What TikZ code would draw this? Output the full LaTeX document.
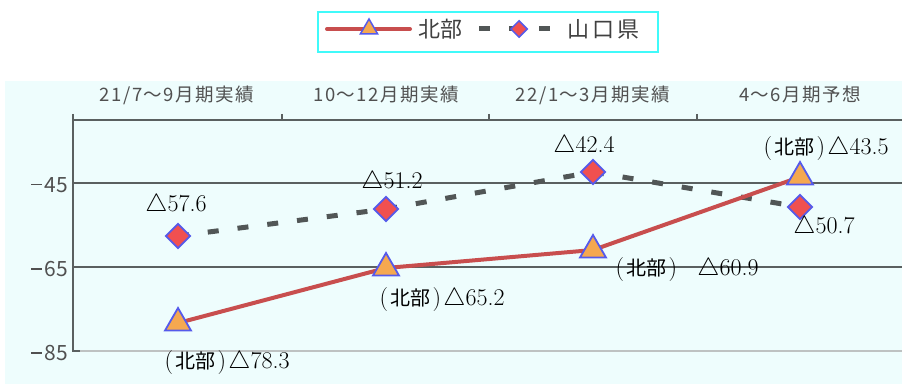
\documentclass[tikz,border=0pt]{standalone}
\usepackage{fontspec}
\newfontfamily\cjk{Noto Sans CJK JP}
\newfontfamily\cjksp[LetterSpace=8]{Noto Sans CJK JP}
\usetikzlibrary{shapes.geometric}
\definecolor{bgcyan}{RGB}{238,253,253}
\definecolor{gridgray}{RGB}{90,96,96}
\definecolor{lightgrid}{RGB}{190,194,194}
\definecolor{txtgray}{RGB}{80,80,80}
\definecolor{redline}{RGB}{200,78,78}
\definecolor{triorange}{RGB}{245,168,80}
\definecolor{diared}{RGB}{240,80,80}
\definecolor{mkblue}{RGB}{85,90,235}
\definecolor{legcyan}{RGB}{64,250,250}
\tikzset{
  grid/.style={draw=gridgray, line width=1.8pt},
  hokubu/.style={draw=redline, line width=4pt},
  ken/.style={draw=gridgray!90!black, line width=5pt, dash pattern=on 11pt off 19pt},
  tri/.style={regular polygon, regular polygon sides=3, minimum size=30pt, inner sep=0pt, fill=triorange, draw=mkblue, line width=1.8pt},
  dia/.style={diamond, minimum width=25pt, minimum height=25pt, inner sep=0pt, fill=diared, draw=mkblue, line width=1.8pt},
  cat/.style={text=txtgray, font=\cjksp\fontsize{18.5}{22}\selectfont},
  ylab/.style={text=txtgray, font=\cjk\fontsize{21}{24}\selectfont, anchor=east, inner sep=0pt},
  val/.style={text=black, font=\fontsize{24}{28}\selectfont, inner sep=0pt},
  legtxt/.style={text=txtgray!80!black, font=\cjk\fontsize{22}{26}\selectfont, inner sep=0pt}
}
\newcommand{\hb}{\makebox[13pt]{(}{\cjk\fontsize{20}{24}\selectfont 北部}\makebox[13pt]{)}}
\newcommand{\mn}{\rule[0.33em]{0.5em}{0.075em}\hspace{0.12em}}
\begin{document}
\begin{tikzpicture}[x=1pt,y=-1pt]
\useasboundingbox (0,0) rectangle (902,385);
\fill[white] (0,0) rectangle (902,385);
\fill[bgcyan] (5,81) rectangle (902,384);

% legend
\node[draw=legcyan, line width=2pt, minimum width=340pt, minimum height=40pt, inner sep=0pt] (legend) at (488,32) {};
\coordinate (la) at (327,29);
\coordinate (lb) at (410,29);
\draw[hokubu, line cap=round] (la) -- (lb);
\node[tri, minimum size=20pt, line width=1.5pt] (ltri) at (369,29) {};
\node[legtxt, anchor=west] (lt1) at (418,29) {北部};
\coordinate (lc) at (479,29);
\coordinate (ld) at (551,29);
\draw[ken, line width=5pt] (lc) -- (ld);
\node[dia, minimum width=17pt, minimum height=17pt, line width=1.5pt] (ldia) at (519,29) {};
\node[legtxt, anchor=west] (lt2) at (567,29) {山\hspace{3pt}口\hspace{3pt}県};

% category labels
\node[cat] (c1) at (177,95) {21/7～9月期実績};
\node[cat] (c2) at (386,95) {10～12月期実績};
\node[cat] (c3) at (593,95) {22/1～3月期実績};
\node[cat] (c4) at (800,95) {4～6月期予想};

% grid
\draw[draw=lightgrid, line width=2.5pt] (73,351) -- (902,351);
\draw[grid] (73,120) -- (902,120);
\draw[grid] (73,183) -- (902,183);
\draw[grid] (73,267) -- (902,267);
\draw[grid] (73,114) -- (73,352);
\draw[grid] (73,351) -- (80,351);
\draw[grid] (282,114) -- (282,120);
\draw[grid] (489,114) -- (489,120);
\draw[grid] (697,114) -- (697,120);

% y labels
\node[ylab] (y45) at (68,185) {\mn 45};
\node[ylab] (y65) at (68,269) {\mn 65};
\node[ylab] (y85) at (68,353) {\mn 85};

% data points
\coordinate (h1) at (178,323);
\coordinate (h2) at (386,268);
\coordinate (h3) at (593,250);
\coordinate (h4) at (800,177);
\coordinate (k1) at (178,236);
\coordinate (k2) at (386,209);
\coordinate (k3) at (593,172);
\coordinate (k4) at (800,207);

\draw[ken] (k1) -- (k2) -- (k3) -- (k4);
\draw[hokubu] (h1) -- (h2) -- (h3) -- (h4);

\node[dia] (d1) at (k1) {};
\node[dia] (d2) at (k2) {};
\node[dia] (d3) at (k3) {};
\node[dia] (d4) at (k4) {};
\node[tri] (t1) at (h1) {};
\node[tri] (t2) at (h2) {};
\node[tri] (t3) at (h3) {};
\node[tri] (t4) at (h4) {};

% value labels
\node[val] (v1) at (176,205) {$\triangle$57.6};
\node[val] (v2) at (392,182) {$\triangle$51.2};
\node[val] (v3) at (584,146) {$\triangle$42.4};
\node[val] (v4) at (824,227) {$\triangle$50.7};
\node[val] (w1) at (226,363) {\hb$\triangle$78.3};
\node[val] (w2) at (441,300) {\hb$\triangle$65.2};
\node[val] (w3) at (686,270) {\hb\hspace{18pt}$\triangle$60.9};
\node[val] (w4) at (825,149) {\hb$\triangle$43.5};
\end{tikzpicture}
\end{document}
